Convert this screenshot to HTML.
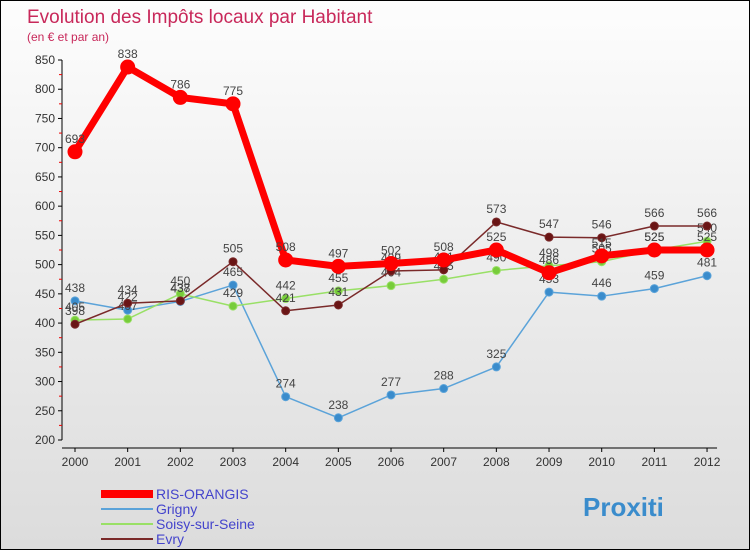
<!DOCTYPE html>
<html><head><meta charset="utf-8"><style>
body{margin:0}
#c{width:748px;height:548px;border:1px solid #000;position:relative;overflow:hidden;background:linear-gradient(#fdfdfd,#dcdcdc);font-family:"Liberation Sans",sans-serif}
</style></head><body>
<div id="c">
<svg id="s" width="748" height="548"></svg>
</div>
<script>
const years=["2000","2001","2002","2003","2004","2005","2006","2007","2008","2009","2010","2011","2012"];
const ris=[693,838,786,775,508,497,502,508,525,486,515,525,525];
const grigny=[438,422,437,465,274,238,277,288,325,453,446,459,481];
const soisy=[405,407,450,429,442,455,464,475,490,498,505,525,540];
const evry=[398,434,438,505,421,431,489,491,573,547,546,566,566];
const yTicks=[200,250,300,350,400,450,500,550,600,650,700,750,800,850];
const NS="http://www.w3.org/2000/svg";
const s=document.getElementById('s');
function X(i){return 74+i*52.67;}
function Y(v){return 439-(v-200)*380/650;}
function el(t,a,p){const e=document.createElementNS(NS,t);for(const k in a)e.setAttribute(k,a[k]);(p||s).appendChild(e);return e;}
function tx(x,y,str,a){const e=el('text',Object.assign({x:x,y:y},a));e.textContent=str;return e;}
let t=tx(26,22,"Evolution des Impôts locaux par Habitant",{fill:"#c8285a","font-size":19});

t=tx(26,40,"(en € et par an)",{fill:"#c8285a","font-size":12});

let ax=el('line',{x1:61,y1:Y(850),x2:61,y2:Y(200),stroke:"#000"});

ax=el('line',{x1:61,y1:Y(200)+8,x2:X(12)+10,y2:Y(200)+8,stroke:"#000"});

yTicks.forEach((v,i)=>{el('line',{x1:57,y1:Y(v),x2:61,y2:Y(v),stroke:"#000"});
 const l=tx(54,Y(v)+4,String(v),{"text-anchor":"end","font-size":12,fill:"#333"});
 
 if(i<yTicks.length-1)el('line',{x1:58,y1:Y(v+25),x2:61,y2:Y(v+25),stroke:"#e00"});});
years.forEach((y,i)=>{el('line',{x1:X(i),y1:Y(200)+8,x2:X(i),y2:Y(200)+12,stroke:"#000"});
 const l=tx(X(i),Y(200)+26,y,{"text-anchor":"middle","font-size":12,fill:"#333"});
 });
function series(d,col,w,r,name,dot){
 const g=el('g',{});
 el('polyline',{points:d.map((v,i)=>X(i)+','+Y(v)).join(' '),fill:"none",stroke:col,"stroke-width":w,"stroke-linejoin":"round"},g);
 d.forEach((v,i)=>{const c=el('circle',{cx:X(i),cy:Y(v),r:r,fill:dot,stroke:col},g);
  
  const l=tx(X(i),Y(v)-9,String(v),{"text-anchor":"middle","font-size":12,fill:"#444"},g);
  });
}
series(grigny,"#5ba3d9",1.5,4,"grigny","#3a8ccc");
series(soisy,"#99e066",1.5,4,"soisy","#77cc3a");
series(evry,"#7a2a2a",1.5,4,"evry","#6a1515");
series(ris,"#f00",7,7,"ris-orangis","#f00");
const leg=[["RIS-ORANGIS","#f00",8],["Grigny","#5ba3d9",2],["Soisy-sur-Seine","#99e066",2],["Evry","#7a2a2a",2]];
leg.forEach((L,i)=>{const g=el('g',{});
 const y=493+i*15;el('line',{x1:100,y1:y,x2:152,y2:y,stroke:L[1],"stroke-width":L[2]},g);
 tx(155,y+5,L[0],{"font-size":14,fill:"#4444cc"},g);});
const lg=tx(582,515,"Proxiti",{"font-size":26,"font-weight":"bold",fill:"#3a8ccc"});

</script>
</body></html>
